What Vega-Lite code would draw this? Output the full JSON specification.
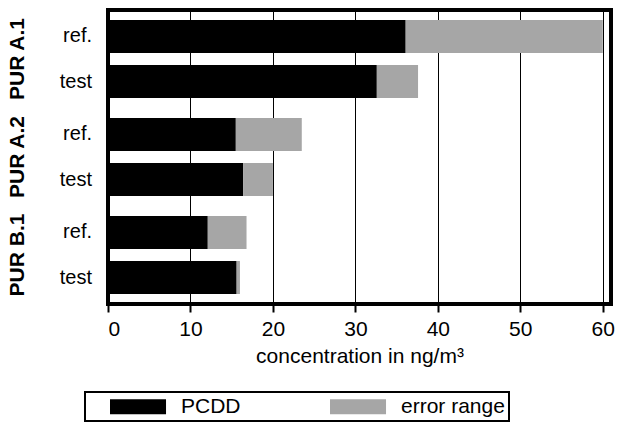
{
  "$schema": "https://vega.github.io/schema/vega-lite/v6.json",
  "autosize": {"type": "none"},
  "padding": {"left": 108, "top": 10, "right": 11, "bottom": 122},
  "width": 503,
  "height": 294,
  "data": {
    "values": [
      {"group": "PUR A.1", "sample": "ref.", "type": "PCDD", "lo": 0, "hi": 36.1},
      {"group": "PUR A.1", "sample": "ref.", "type": "error range", "lo": 36.1, "hi": 60},
      {"group": "PUR A.1", "sample": "test", "type": "PCDD", "lo": 0, "hi": 32.6},
      {"group": "PUR A.1", "sample": "test", "type": "error range", "lo": 32.6, "hi": 37.6},
      {"group": "PUR A.2", "sample": "ref.", "type": "PCDD", "lo": 0, "hi": 15.5},
      {"group": "PUR A.2", "sample": "ref.", "type": "error range", "lo": 15.5, "hi": 23.5},
      {"group": "PUR A.2", "sample": "test", "type": "PCDD", "lo": 0, "hi": 16.4},
      {"group": "PUR A.2", "sample": "test", "type": "error range", "lo": 16.4, "hi": 20.0},
      {"group": "PUR B.1", "sample": "ref.", "type": "PCDD", "lo": 0, "hi": 12.1},
      {"group": "PUR B.1", "sample": "ref.", "type": "error range", "lo": 12.1, "hi": 16.8},
      {"group": "PUR B.1", "sample": "test", "type": "PCDD", "lo": 0, "hi": 15.6},
      {"group": "PUR B.1", "sample": "test", "type": "error range", "lo": 15.6, "hi": 16.0}
    ]
  },
  "layer": [
    {
      "mark": {"type": "bar"},
      "encoding": {
        "y": {
          "field": "group",
          "type": "nominal",
          "sort": ["PUR A.1", "PUR A.2", "PUR B.1"],
          "scale": {"paddingInner": 0, "paddingOuter": 0},
          "axis": {
            "title": null,
            "ticks": false,
            "domain": false,
            "labelAngle": -90,
            "labelAlign": "center",
            "labelBaseline": "bottom",
            "labelPadding": 81,
            "labelFont": "Liberation Sans",
            "labelFontSize": 21,
            "labelFontWeight": "bold",
            "labelColor": "black"
          }
        },
        "yOffset": {
          "field": "sample",
          "type": "nominal",
          "sort": ["ref.", "test"],
          "scale": {"paddingInner": 0.267, "paddingOuter": 0.222}
        },
        "x": {
          "field": "lo",
          "type": "quantitative",
          "scale": {"domain": [0, 61], "nice": false},
          "axis": {
            "values": [0, 10, 20, 30, 40, 50, 60],
            "title": "concentration in ng/m³",
            "titleFont": "Liberation Sans",
            "titleFontSize": 21,
            "titleFontWeight": "normal",
            "titleColor": "black",
            "titlePadding": 6,
            "labelFont": "Liberation Sans",
            "labelFontSize": 21,
            "labelColor": "black",
            "labelPadding": 6,
            "tickSize": 8,
            "tickWidth": 2,
            "tickColor": "black",
            "domain": false,
            "grid": true,
            "gridColor": "black",
            "gridWidth": 1,
            "gridOpacity": 1
          }
        },
        "x2": {"field": "hi"},
        "color": {
          "field": "type",
          "type": "nominal",
          "scale": {"domain": ["PCDD", "error range"], "range": ["#000000", "#a6a6a6"]},
          "legend": {
            "title": null,
            "orient": "none",
            "legendX": -23,
            "legendY": 382,
            "direction": "horizontal",
            "symbolType": "M1.4,-1H8.87V1H1.4Z",
            "symbolSize": 225,
            "symbolStrokeWidth": 0,
            "symbolOpacity": 1,
            "labelOffset": 71,
            "labelFont": "Liberation Sans",
            "labelFontSize": 21,
            "labelColor": "black",
            "columnPadding": 68,
            "padding": 4,
            "strokeColor": "black",
            "fillColor": "white",
            "encode": {"legend": {"update": {"strokeWidth": {"value": 2}}}}
          }
        }
      }
    },
    {
      "transform": [{"filter": "datum.type === 'PCDD'"}],
      "mark": {"type": "text", "align": "right", "baseline": "middle", "dx": -16, "font": "Liberation Sans", "fontSize": 20, "color": "black"},
      "encoding": {
        "y": {"field": "group", "type": "nominal", "sort": ["PUR A.1", "PUR A.2", "PUR B.1"]},
        "yOffset": {"field": "sample", "type": "nominal", "sort": ["ref.", "test"]},
        "x": {"datum": 0, "type": "quantitative"},
        "text": {"field": "sample"}
      }
    }
  ],
  "config": {
    "view": {"stroke": "black", "strokeWidth": 4},
    "background": "white"
  }
}
